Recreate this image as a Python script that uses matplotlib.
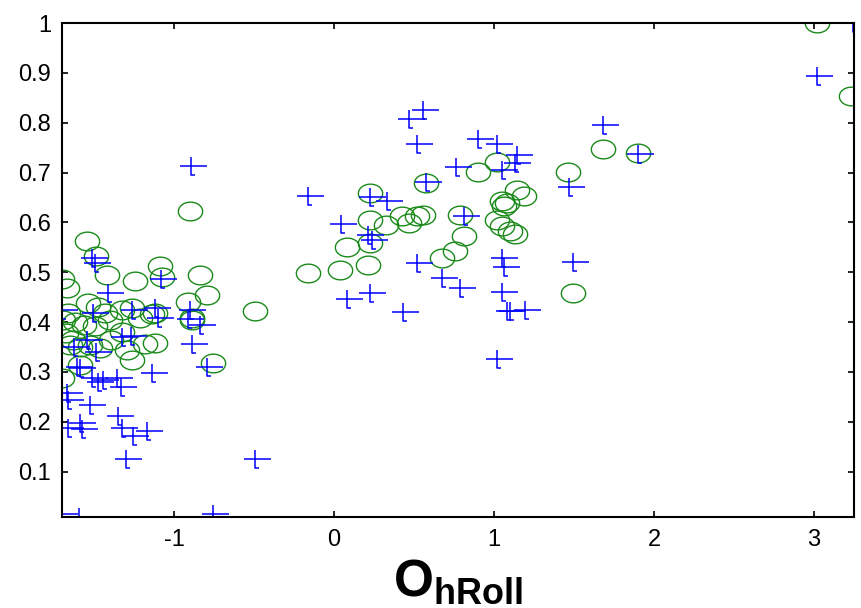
import numpy as np
import matplotlib
matplotlib.use('Agg')
import matplotlib.pyplot as plt
from matplotlib.path import Path

plt.rcParams['font.family'] = ['Liberation Sans', 'DejaVu Sans']
plt.rcParams['mathtext.fontset'] = 'custom'
plt.rcParams['mathtext.rm'] = 'Liberation Sans'
plt.rcParams['mathtext.bf'] = 'Liberation Sans:bold'

# blue "+" series
blue_x = [3.242, 3.017, 1.683, 1.898, 1.471, 1.496, 0.558, 0.471, 0.517, 0.902,
          1.021, 1.146, 1.131, 1.048, 0.761, 0.573, -0.161, 0.225, 0.333, 0.042,
          0.214, 0.238, 0.813, 1.052, 1.063, 0.517, 0.673, 0.788, 1.048, 1.079,
          1.100, 1.194, 0.225, 0.079, 0.429, 1.017, -0.896, -0.494, -0.754,
          -1.081, -0.900, -0.911, -0.838, -0.886, -0.796, -1.098, -1.138, -1.333,
          -1.348, -1.327, -1.254, -1.171, -1.300, -1.700, -1.594, -1.661, -1.577,
          -1.588, -1.671, -1.661, -1.514, -1.473, -1.358, -1.525, -1.608, -1.588,
          -1.514, -1.494, -1.415, -1.700, -1.119, -1.504, -1.264, -1.442,
          -1.544, -1.488, -1.325, -1.269, -1.625]
blue_y = [1.000, 0.893, 0.796, 0.738, 0.672, 0.520, 0.826, 0.808, 0.758, 0.768,
          0.758, 0.736, 0.719, 0.705, 0.711, 0.682, 0.654, 0.651, 0.643, 0.597,
          0.575, 0.565, 0.612, 0.528, 0.511, 0.518, 0.489, 0.468, 0.461, 0.423,
          0.423, 0.424, 0.458, 0.446, 0.421, 0.325, 0.714, 0.125, 0.015,
          0.486, 0.424, 0.406, 0.394, 0.357, 0.309, 0.408, 0.297, 0.269,
          0.212, 0.187, 0.172, 0.182, 0.125, 0.015, 0.008, 0.187, 0.185,
          0.197, 0.257, 0.244, 0.287, 0.280, 0.287, 0.234, 0.310, 0.307,
          0.528, 0.518, 0.458, 0.424, 0.428, 0.418, 0.424, 0.284,
          0.364, 0.340, 0.370, 0.372, 0.350]

# green "o" series
green_x = [3.017, 3.231, 1.679, 1.898, 1.464, 1.492, 1.017, 0.902, 0.573, 0.225,
           0.225, 0.325, 0.423, 0.471, 0.517, 0.558, 0.788, 1.146, 1.189, 1.048,
           1.063, 1.081, 1.017, 1.048, 1.100, 1.131, 0.225, 0.079, 0.814, 0.756,
           0.673, 0.211, 0.038, -0.163, -0.900, -0.494, -0.754, -0.838, -0.796,
           -0.911, -0.889, -0.886, -1.088, -1.077, -1.119, -1.119, -1.546, -1.488,
           -1.417, -1.244, -1.698, -1.671, -1.536, -1.473, -1.431, -1.327, -1.264,
           -1.139, -1.661, -1.694, -1.675, -1.631, -1.588, -1.525, -1.463, -1.394,
           -1.494, -1.563, -1.619, -1.327, -1.296, -1.264, -1.181, -1.588, -1.700,
           -1.400, -1.213, -1.650]
green_y = [1.000, 0.854, 0.747, 0.739, 0.701, 0.458, 0.722, 0.701, 0.679, 0.659,
           0.605, 0.594, 0.612, 0.598, 0.612, 0.615, 0.615, 0.665, 0.654, 0.642,
           0.633, 0.639, 0.605, 0.592, 0.582, 0.577, 0.558, 0.551, 0.573, 0.543,
           0.529, 0.515, 0.505, 0.498, 0.623, 0.422, 0.318, 0.495, 0.454,
           0.441, 0.408, 0.404, 0.513, 0.491, 0.418, 0.358, 0.563, 0.533,
           0.495, 0.483, 0.487, 0.468, 0.438, 0.431, 0.418, 0.424, 0.428,
           0.416, 0.418, 0.404, 0.378, 0.364, 0.350, 0.354, 0.348, 0.364,
           0.392, 0.394, 0.400, 0.381, 0.344, 0.324, 0.357, 0.314, 0.287,
           0.404, 0.408, 0.354]

y_ticks = [0.1, 0.2, 0.3, 0.4, 0.5, 0.6, 0.7, 0.8, 0.9, 1.0]
y_tick_labels = ['0.1', '0.2', '0.3', '0.4', '0.5', '0.6', '0.7', '0.8', '0.9', '1']
x_ticks = [-1, 0, 1, 2, 3]
x_tick_labels = ['-1', '0', '1', '2', '3']

# marker shapes: plus with the little tail, and a slightly wide ellipse
plus_path = Path([(-11, 0), (16, 0), (0, 9), (0, -9), (4, -9)],
                 [Path.MOVETO, Path.LINETO, Path.MOVETO, Path.LINETO, Path.LINETO])
t = np.linspace(0, 2 * np.pi, 60)
ellipse_path = Path(np.column_stack([1.3 * np.cos(t), np.sin(t)]))

fig = plt.figure(figsize=(8.61, 6.08), dpi=100)
ax = fig.add_axes([0.072, 0.149, 0.920, 0.813])

ax.plot(green_x, green_y, linestyle='none', marker=ellipse_path, markersize=17.5,
        markerfacecolor='none', markeredgecolor='#1a8a1a', markeredgewidth=1.0)
ax.plot(blue_x, blue_y, linestyle='none', marker=plus_path, markersize=23,
        markerfacecolor='none', markeredgecolor='#0000ff', markeredgewidth=1.1)

ax.set_xlim(-1.70, 3.25)
ax.set_ylim(0.008, 1.0)
ax.set_xticks(x_ticks)
ax.set_xticklabels(x_tick_labels)
ax.set_yticks(y_ticks)
ax.set_yticklabels(y_tick_labels)
ax.tick_params(direction='in', length=4, width=1.2, top=True, right=True,
               labelsize=17, pad=8)
for s in ax.spines.values():
    s.set_linewidth(1.5)

ax.set_xlabel(r'$\mathbf{O}_{\mathbf{hRoll}}$', fontsize=37, labelpad=5)

fig.savefig('out.png', dpi=100)
